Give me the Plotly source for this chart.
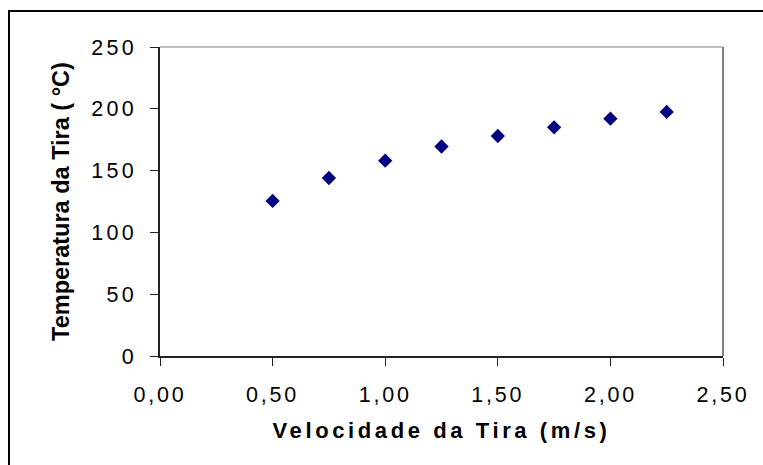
import plotly.graph_objects as go

velocidade = [0.50, 0.75, 1.00, 1.25, 1.50, 1.75, 2.00, 2.25]
temperatura = [125.5, 144, 158, 169.5, 178, 185, 192, 197.5]
x_title = "Velocidade da Tira (m/s)"
y_title = "Temperatura da Tira (\u00a0°C)"

W, H = 763, 465
ML, MR, MT, MB = 160, 40, 47, 109
PW, PH = W - ML - MR, H - MT - MB

def px_to_paper_x(px):
    return (px - ML) / PW

def px_to_paper_y(py):
    return (H - MB - py) / PH

fig = go.Figure()
fig.add_trace(go.Scatter(
    x=velocidade, y=temperatura, mode="markers",
    marker=dict(symbol="diamond", size=11, color="#000080", line=dict(width=0)),
    showlegend=False,
))

axis_common = dict(
    showgrid=False, zeroline=False, showline=True, linecolor="#222", linewidth=1.5,
    ticks="outside", ticklen=8, tickwidth=1, tickcolor="#222",
    tickfont=dict(family="Liberation Sans, Arial", size=21.5, color="#000"),
)

fig.update_xaxes(
    range=[0, 2.5], dtick=0.5, tick0=0, tickformat=".2f",
    ticklabelstandoff=10,
    title=dict(text=x_title, standoff=17,
               font=dict(family="Liberation Sans, Arial", size=22, color="#000", weight="bold")),
    **axis_common,
)
fig.update_yaxes(
    range=[0, 250], dtick=50, tick0=0,
    ticklabelstandoff=9,
    title=dict(text=y_title, standoff=25,
               font=dict(family="Liberation Sans, Arial", size=23.5, color="#000", weight="bold")),
    **axis_common,
)

shapes = [
    dict(type="line", xref="paper", yref="paper", x0=0, x1=1, y0=1, y1=1,
         line=dict(color="#808080", width=1.2)),
    dict(type="line", xref="paper", yref="paper", x0=1, x1=1, y0=0, y1=1,
         line=dict(color="#808080", width=2)),
    dict(type="rect", xref="paper", yref="paper",
         x0=px_to_paper_x(9), x1=px_to_paper_x(800),
         y0=px_to_paper_y(520), y1=px_to_paper_y(11),
         line=dict(color="#000", width=2), fillcolor="rgba(0,0,0,0)", layer="above"),
]

fig.update_layout(
    width=W, height=H,
    margin=dict(l=ML, r=MR, t=MT, b=MB, pad=0),
    paper_bgcolor="white", plot_bgcolor="white",
    separators=",.",
    shapes=shapes,
)

post = """
var s = document.createElement('style');
s.textContent = '.xtick text{letter-spacing:2.8px;} .ytick text{letter-spacing:3.3px;} text.xtitle{letter-spacing:3.6px;}';
document.head.appendChild(s);
"""

fig.write_html("out.html", include_plotlyjs=True, full_html=True, post_script=post,
               config={"displayModeBar": False})
